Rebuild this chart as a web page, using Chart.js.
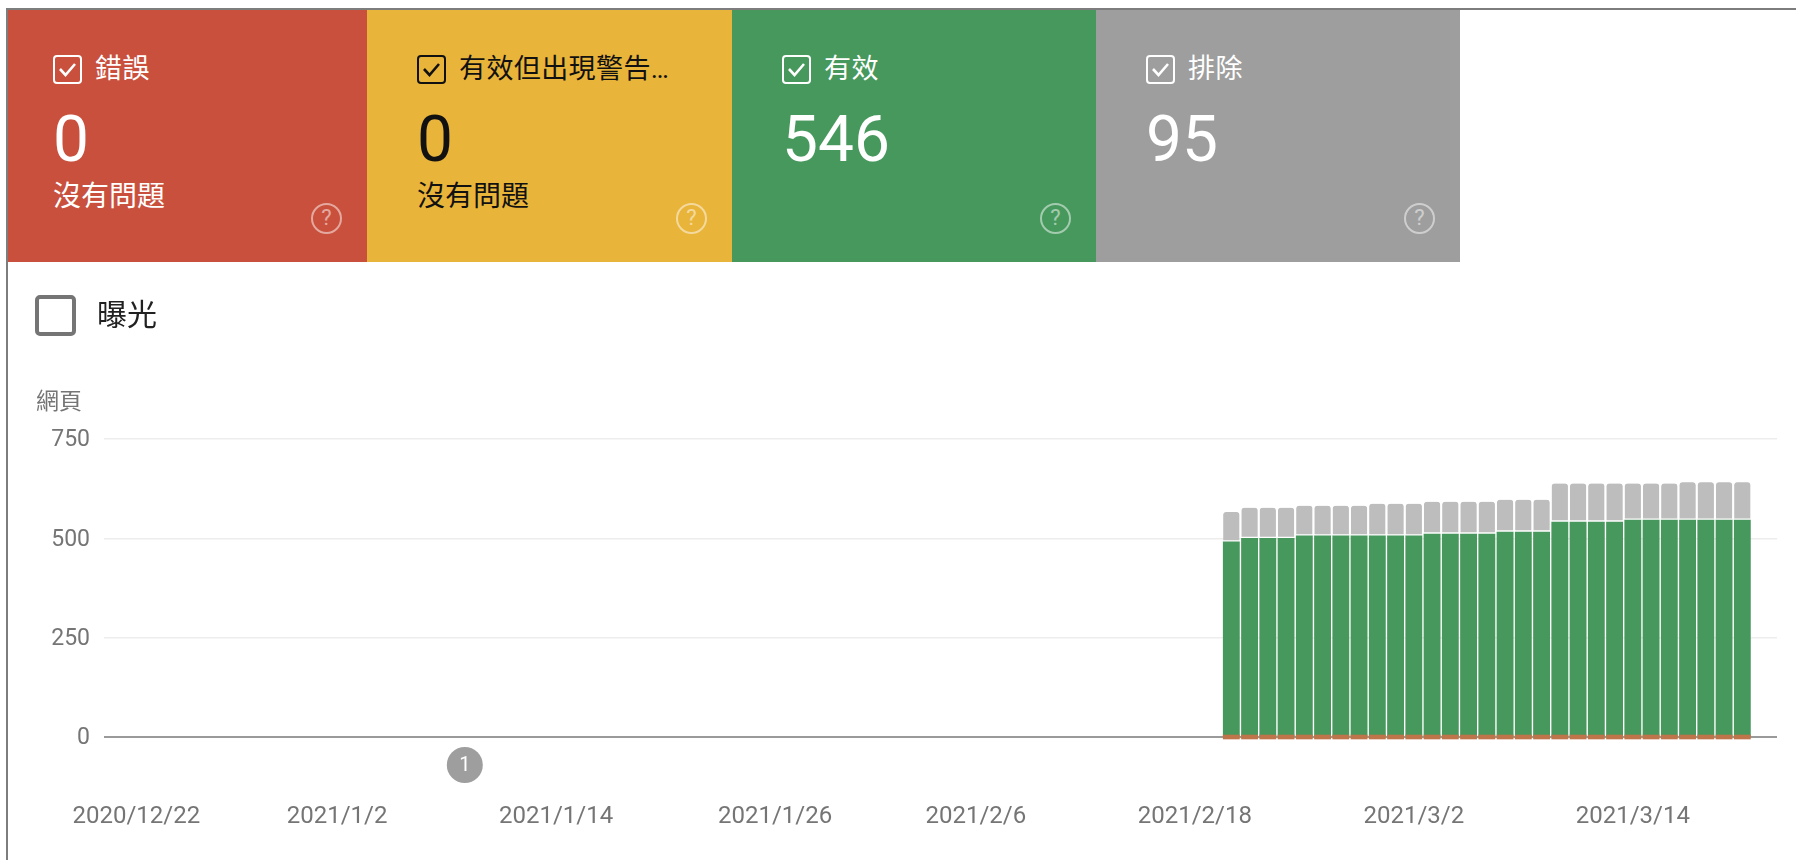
<!DOCTYPE html>
<html>
<head>
<meta charset="utf-8">
<title>涵蓋範圍</title>
<script src="https://cdn.jsdelivr.net/npm/chart.js@4/dist/chart.umd.min.js"></script>
<style>
    html, body { margin: 0; padding: 0; background: #fff; }
    body { width: 1796px; height: 860px; position: relative; overflow: hidden; font-family: Roboto, "Noto Sans CJK TC", sans-serif; }
    canvas { position: absolute; left: 0; top: 0; }
    .frameTop { position: absolute; left: 6px; top: 8px; right: 0; height: 2px; background: #7d7d7d; }
    .frameLeft { position: absolute; left: 6px; top: 8px; bottom: 0; width: 2px; background: #7d7d7d; }
    .tile { position: absolute; top: 10px; height: 252px; }
    .tile > * { position: absolute; }
    .check { top: 45px; width: 29px; height: 29px; box-sizing: border-box; border: 2px solid currentColor; border-radius: 4px; }
    .check svg { position: absolute; left: 3px; top: 4px; }
    .name { top: 41px; font-size: 27px; line-height: 36px; letter-spacing: .4px; white-space: nowrap; }
    .count { top: 98px; font-size: 64px; line-height: 64px; }
    .status { top: 168px; font-size: 28px; line-height: 38px; white-space: nowrap; }
    .help { top: 193px; width: 31px; height: 31px; box-sizing: border-box; border: 2.5px solid #fff; border-radius: 50%; color: #fff; opacity: .5; font-size: 22px; line-height: 26px; text-align: center; }
    .metricBox { position: absolute; left: 35px; top: 295px; width: 41px; height: 41px; box-sizing: border-box; border: 4px solid #757575; border-radius: 5px; }
    .metricName { position: absolute; left: 97px; top: 296px; font-size: 30px; line-height: 38px; color: #212121; }
    .axisName { position: absolute; left: 36px; top: 386px; font-size: 23px; line-height: 32px; color: #757575; }
</style>
</head>
<body>
<canvas id="coverageChart" width="1796" height="860"></canvas>
<div class="frameTop"></div>
<div class="frameLeft"></div>
<div id="tiles"></div>
<div class="metricBox"></div>
<div class="metricName">曝光</div>
<div class="axisName">網頁</div>
<script>
const tileNames = ["錯誤", "有效但出現警告…", "有效", "排除"];
const tileCounts = ["0", "0", "546", "95"];
const tileStatus = ["沒有問題", "沒有問題", "", ""];
const tileColors = ["#C9503D", "#E9B43A", "#47985D", "#9E9E9E"];
const tileInk = ["#fff", "#111", "#fff", "#fff"];
const tileLeft = [8, 367, 732, 1096];
const tileRight = [367, 732, 1096, 1460];
const tileInset = [45, 50, 50, 50];

// days counted from 2020/12/22
const tickDays = [0, 11, 23, 35, 46, 58, 70, 82];
const tickLabels = ["2020/12/22", "2021/1/2", "2021/1/14", "2021/1/26", "2021/2/6", "2021/2/18", "2021/3/2", "2021/3/14"];
const yTicks = [0, 250, 500, 750];
const barDays = [60, 61, 62, 63, 64, 65, 66, 67, 68, 69, 70, 71, 72, 73, 74, 75, 76, 77, 78, 79, 80, 81, 82, 83, 84, 85, 86, 87, 88];
const errorPages = [0, 0, 0, 0, 0, 0, 0, 0, 0, 0, 0, 0, 0, 0, 0, 0, 0, 0, 0, 0, 0, 0, 0, 0, 0, 0, 0, 0, 0];
const warningPages = [0, 0, 0, 0, 0, 0, 0, 0, 0, 0, 0, 0, 0, 0, 0, 0, 0, 0, 0, 0, 0, 0, 0, 0, 0, 0, 0, 0, 0];
const validPages = [491, 500, 500, 500, 506, 506, 506, 506, 506, 506, 506, 511, 511, 511, 511, 516, 516, 516, 541, 541, 541, 541, 546, 546, 546, 546, 546, 546, 546];
const excludedPages = [75, 77, 77, 77, 76, 76, 76, 76, 81, 81, 81, 81, 81, 81, 81, 81, 81, 81, 97, 97, 97, 97, 92, 92, 92, 95, 95, 95, 95];
const markerDay = 18;
const markerText = "1";

const tilesEl = document.getElementById("tiles");
tileNames.forEach((name, i) => {
    const tile = document.createElement("div");
    tile.className = "tile";
    tile.style.left = tileLeft[i] + "px";
    tile.style.width = (tileRight[i] - tileLeft[i]) + "px";
    tile.style.background = tileColors[i];
    tile.style.color = tileInk[i];
    const inset = tileInset[i];
    tile.innerHTML =
        '<div class="check" style="left:' + inset + 'px"><svg width="19" height="17" viewBox="0 0 19 17"><path d="M2 8 L7.5 14 L17 3" fill="none" stroke="currentColor" stroke-width="2.6"/></svg></div>' +
        '<div class="name" style="left:' + (inset + 42) + 'px">' + name + '</div>' +
        '<div class="count" style="left:' + inset + 'px">' + tileCounts[i] + '</div>' +
        '<div class="status" style="left:' + inset + 'px">' + tileStatus[i] + '</div>' +
        '<div class="help" style="right:25px">?</div>';
    tilesEl.appendChild(tile);
});

const toPoints = (values) => values.map((v, i) => ({ x: barDays[i], y: v }));

// the numbered circle under the axis
const markerPlugin = {
    id: 'marker',
    afterDraw(chart) {
        const { ctx, scales } = chart;
        const x = scales.x.getPixelForValue(markerDay);
        const y = scales.y.getPixelForValue(0) + 28;
        ctx.save();
        ctx.beginPath();
        ctx.arc(x, y, 18, 0, Math.PI * 2);
        ctx.fillStyle = '#9E9E9E';
        ctx.fill();
        ctx.font = '20px Roboto';
        ctx.fillStyle = '#fff';
        ctx.textAlign = 'center';
        ctx.textBaseline = 'middle';
        ctx.fillText(markerText, x, y + 1);
        ctx.restore();
    }
};

new Chart("coverageChart", {
    type: "bar",
    data: {
        datasets: [{
            label: "錯誤",
            data: toPoints(errorPages),
            backgroundColor: "#BE7549",
            // own stack, so its minimum height does not lift the green bars
            stack: "issues",
            grouped: false,
            minBarLength: 4,
            clip: false
        }, {
            label: "有效但出現警告",
            data: toPoints(warningPages),
            backgroundColor: "#E9B43A",
            stack: "pages"
        }, {
            label: "有效",
            data: toPoints(validPages),
            backgroundColor: "#47985D",
            stack: "pages"
        }, {
            label: "排除",
            data: toPoints(excludedPages),
            backgroundColor: "#BDBDBD",
            stack: "pages",
            borderColor: "#fff",
            borderWidth: { top: 0, left: 0, right: 0, bottom: 2 },
            borderSkipped: false,
            borderRadius: { topLeft: 3, topRight: 3, bottomLeft: 0, bottomRight: 0 }
        }]
    },
    options: {
        responsive: false,
        animation: false,
        datasets: { bar: { barThickness: 16.2 } },
        layout: {
            autoPadding: false,
            padding: { left: 0, right: 19, top: 439, bottom: 0 }
        },
        scales: {
            x: {
                type: "linear",
                stacked: true,
                offset: false,
                min: -1.77,
                max: 89.9,
                grid: { display: false },
                border: { display: false },
                afterBuildTicks(scale) {
                    scale.ticks = tickDays.map(d => ({ value: d }));
                },
                afterFit(scale) {
                    scale.height = 119.82;
                },
                ticks: {
                    autoSkip: false,
                    maxRotation: 0,
                    padding: 54,
                    color: "#757575",
                    font: { family: "Roboto", size: 24 },
                    callback: (value, i) => tickLabels[i]
                }
            },
            y: {
                stacked: true,
                // a little room under zero so the thin error strip straddles the axis
                min: -8,
                max: 750,
                grid: {
                    drawTicks: false,
                    color: (c) => c.tick.value === 0 ? "#9A9A9A" : "#EDEDED",
                    lineWidth: (c) => c.tick.value === 0 ? 2 : 1.5
                },
                border: { display: false },
                afterBuildTicks(scale) {
                    scale.ticks = yTicks.map(v => ({ value: v }));
                },
                afterFit(scale) {
                    scale.width = 104;
                },
                ticks: {
                    padding: 14,
                    labelOffset: 1.5,
                    color: "#757575",
                    font: { family: "Roboto", size: 23 }
                }
            }
        },
        plugins: {
            legend: { display: false },
            tooltip: { enabled: false }
        }
    },
    plugins: [markerPlugin]
});
</script>
</body>
</html>
